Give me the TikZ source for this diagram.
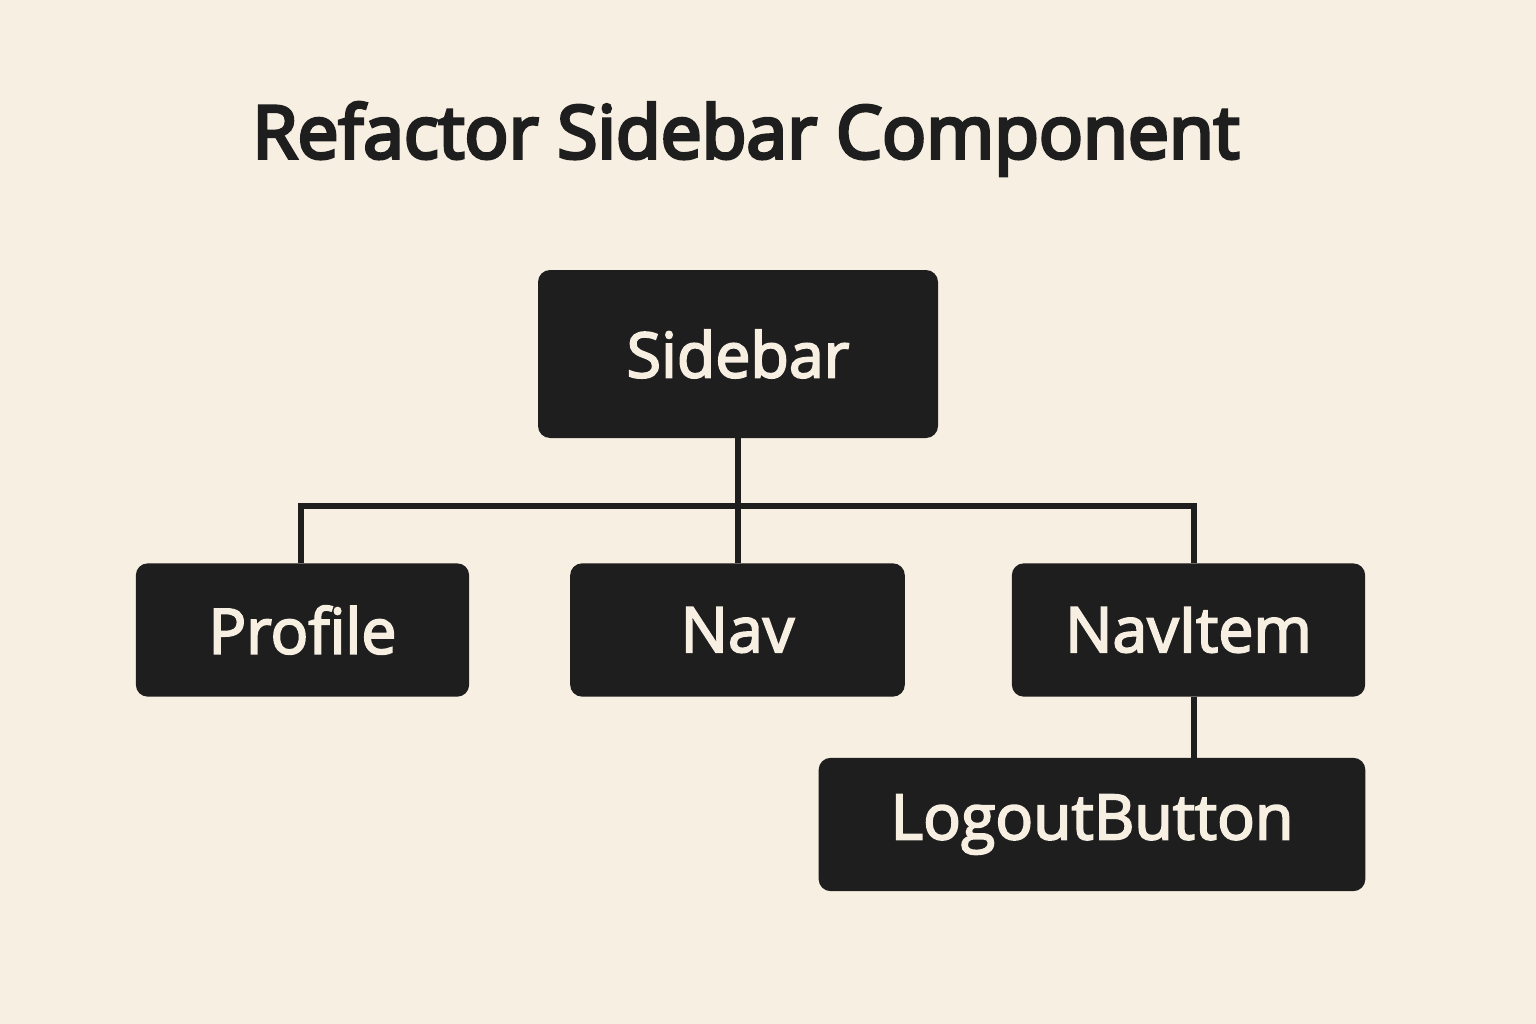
\documentclass[tikz,border=0pt]{standalone}
\usepackage{fontspec}
\setmainfont{Open Sans}
\usepackage{tikz}
\definecolor{paper}{RGB}{246,239,226}
\definecolor{ink}{RGB}{30,30,30}
% thicker strokes for the labels
\newcommand\heavytext[2]{\special{pdf:literal direct #1 w 2 Tr}#2\special{pdf:literal direct 0 Tr}}
\tikzset{
  comp/.style={draw=none, fill=ink, rounded corners=9pt, text=paper, inner sep=0pt, font=\fontsize{47}{57}\selectfont},
  wire/.style={draw=ink, line width=3.8pt}
}

\begin{document}
\begin{tikzpicture}[x=0.75pt,y=0.75pt,yscale=-1,xscale=1]
%set diagram left start at 0, and has height of 1024
\fill [paper] (0,0) rectangle (1536,1024);
\useasboundingbox (0,0) rectangle (1536,1024);

% Text Node
\node (title) at (746,139) [text=ink, font=\fontsize{54.8}{64}\selectfont] {\heavytext{2.5}{Refactor Sidebar Component}};

%Shape: Rectangle [id:sidebar]
\node (sidebar) at (738,354) [comp, minimum width=300pt, minimum height=126pt] {\heavytext{1.4}{Sidebar}};
%Shape: Rectangle [id:profile]
\node (profile) at (302.5,630) [comp, minimum width=250pt, minimum height=100pt] {\heavytext{1.4}{Profile}};
%Shape: Rectangle [id:nav]
\node (nav) at (737.5,630) [comp, minimum width=251pt, minimum height=100pt] {\heavytext{1.4}{Nav}};
%Shape: Rectangle [id:navitem]
\node (navitem) at (1188.5,630) [comp, minimum width=265pt, minimum height=100pt] {\heavytext{1.4}{NavItem}};
%Shape: Rectangle [id:logout]
\node (logout) at (1092,824.5) [comp, minimum width=410pt, minimum height=100pt] {\heavytext{1.4}{LogoutButton}};

\coordinate (split) at (738,506);

%Straight Lines
\draw [wire] (sidebar.south) -- (split);
\draw [wire] (profile.north -| 301,0) |- (split) -| (navitem.north -| 1194,0);
\draw [wire] (split) -- (nav.north -| split);
\draw [wire] (navitem.south -| 1194,0) -- (logout.north -| 1194,0);
\end{tikzpicture}
\end{document}
